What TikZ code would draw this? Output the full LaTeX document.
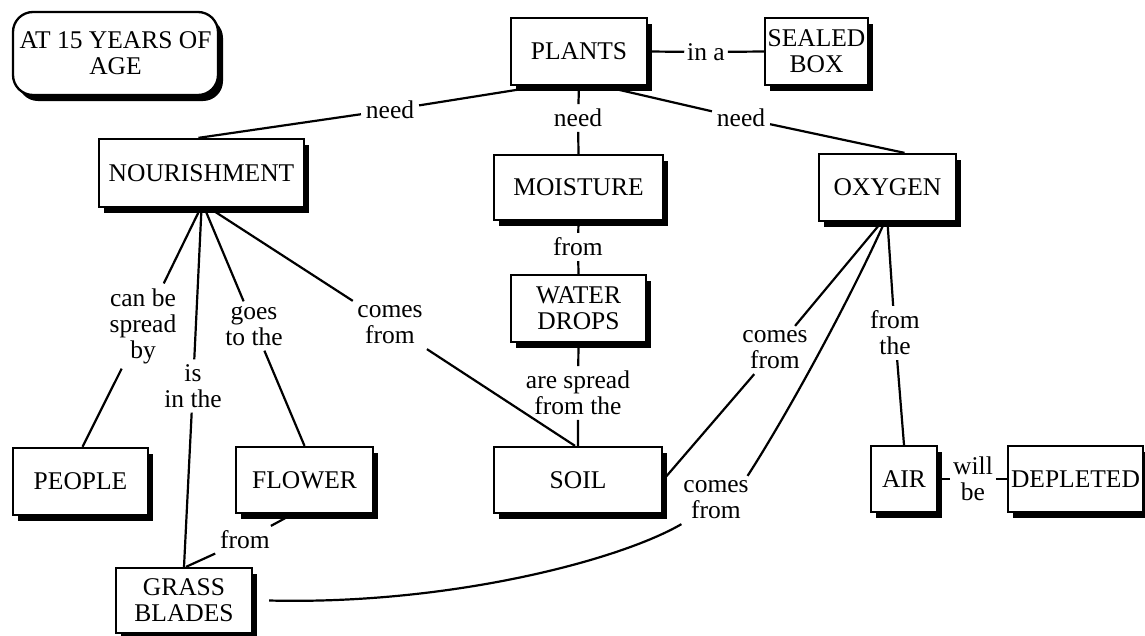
\documentclass[tikz,border=0pt]{standalone}
\usepackage{fontspec}
\setmainfont{Liberation Serif}
\usetikzlibrary{shadows}
\pgfdeclarelayer{background}
\pgfsetlayers{background,main}
\begin{document}
\begin{tikzpicture}[x=1pt,y=-1pt,
  every node/.style={font=\fontsize{25.5}{26}\selectfont},
  concept/.style={draw, line width=2.3pt, fill=white, align=center, inner sep=0pt,
    drop shadow={shadow xshift=5pt, shadow yshift=-6pt, fill=black, opacity=1}},
  link/.style={align=center, inner sep=2pt, outer sep=3pt},
  conn/.style={line width=2.2pt}]
\useasboundingbox (0,0) rectangle (1145,635);

% concepts
\node[concept, rounded corners=20pt, minimum width=205pt, minimum height=83pt] (age) at (115.5,53.5) {AT 15 YEARS OF\\AGE};
\node[concept, minimum width=136pt, minimum height=67pt] (plants) at (579,51.5) {PLANTS};
\node[concept, minimum width=103pt, minimum height=67pt] (sealed) at (816.5,51.5) {SEALED\\BOX};
\node[concept, minimum width=205pt, minimum height=68pt] (nour) at (201.5,173) {NOURISHMENT};
\node[concept, minimum width=169pt, minimum height=65pt] (moist) at (578.5,187.5) {MOISTURE};
\node[concept, minimum width=137pt, minimum height=67pt] (oxy) at (887.5,187.5) {OXYGEN};
\node[concept, minimum width=135pt, minimum height=67pt] (water) at (578.5,308.5) {WATER\\DROPS};
\node[concept, minimum width=168pt, minimum height=66pt] (soil) at (578,480) {SOIL};
\node[concept, minimum width=135pt, minimum height=67pt] (people) at (80.5,481.5) {PEOPLE};
\node[concept, minimum width=137pt, minimum height=66pt] (flower) at (304.5,480) {FLOWER};
\node[concept, minimum width=136pt, minimum height=65pt] (grass) at (184,600.5) {GRASS\\BLADES};
\node[concept, minimum width=66pt, minimum height=66pt] (air) at (904,479) {AIR};
\node[concept, minimum width=135pt, minimum height=66pt] (depl) at (1075.5,479) {DEPLETED};

% linking phrases
\node[link] (needA) at (390,110) {need};
\node[link] (needB) at (578,118) {need};
\node[link] (needC) at (741,118) {need};
\node[link, outer sep=1pt] (ina) at (706,52) {in a};
\node[link] (fromA) at (578,247) {from};
\node[link] (spread) at (578,393) {are spread\\from the};
\node[link] (canbe) at (143,326) {can be\\spread\\by};
\node[link] (isin) at (193,386) {is\\in the};
\node[link] (goes) at (254,326) {goes\\to the};
\node[link] (comesA) at (390,325) {comes\\from};
\node[link] (fromB) at (245,540) {from};
\node[link] (comesB) at (775,350) {comes\\from};
\node[link] (comesC) at (716,500) {comes\\from};
\node[link] (fromC) at (895,333) {from\\the};
\node[link, outer sep=1pt] (willbe) at (973,479) {will\\be};

% connectors
\begin{pgfonlayer}{background}
\draw[conn] ([xshift=-39pt]plants.south) -- (needA) -- ([xshift=-3pt]nour.north);
\draw[conn] (plants.south) -- (needB) -- (moist.north);
\draw[conn] ([xshift=24pt]plants.south) -- (needC) -- ([xshift=17pt]oxy.north);
\draw[conn] (plants.east) -- (ina) -- (sealed.west);
\draw[conn] (moist.south) -- (fromA) -- (water.north);
\draw[conn] (water.south) -- (spread) -- (soil.north);
\draw[conn] ([xshift=-1pt]nour.south) -- (canbe) -- ([xshift=2pt]people.north);
\draw[conn] (nour.south) -- (isin) -- (grass.north);
\draw[conn] ([xshift=3pt]nour.south) -- (goes) -- (flower.north);
\draw[conn] ([xshift=8pt]nour.south) -- (comesA) -- ([xshift=-3pt]soil.north);
\draw[conn] ([xshift=-12pt]flower.south) -- (fromB) -- ([xshift=2pt]grass.north);
\draw[conn] ([xshift=-6pt]oxy.south) -- (comesB) -- (soil.east);
\draw[conn] ([xshift=-3pt]oxy.south) .. controls (852,295) and (790,410) .. ([xshift=-6pt]comesC.north east);
\draw[conn] ([xshift=3pt]comesC.south west) .. controls (620,560) and (450,605) .. ([xshift=16pt]grass.east);
\draw[conn] (oxy.south) -- (fromC) -- (air.north);
\draw[conn] (air.east) -- (willbe) -- (depl.west);
\end{pgfonlayer}
\end{tikzpicture}
\end{document}
